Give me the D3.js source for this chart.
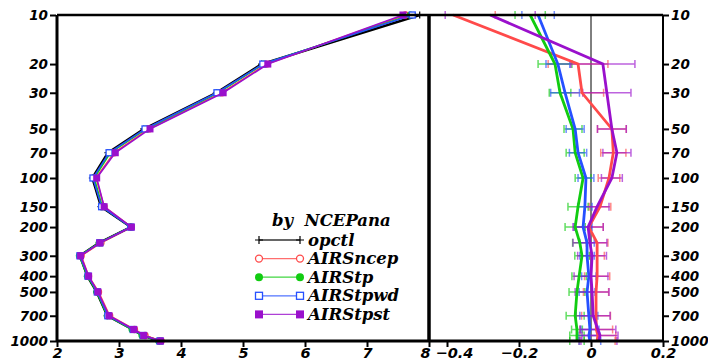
<!DOCTYPE html>
<html><head><meta charset="utf-8">
<script src="https://cdn.jsdelivr.net/npm/d3@7"></script>
<style>
body{margin:0;background:#fff;}
.tl{font-family:"DejaVu Sans",sans-serif;font-weight:bold;font-style:italic;}
.lg{font-family:"DejaVu Serif",serif;font-weight:bold;font-style:italic;font-size:16.5px;white-space:pre;}
</style></head><body>
<svg id="c" width="708" height="362"></svg>
<script>
// ---------- data ----------
const levels = [10,20,30,50,70,100,150,200,250,300,400,500,700,850,925,1000];
const pTicks = [10,20,30,50,70,100,150,200,300,400,500,700,1000];
const leftTicks = [2,3,4,5,6,7,8];
const rightTicks = [-0.4,-0.2,0,0.2];
const seriesNames = ["opctl","AIRSncep","AIRStp","AIRStpwd","AIRStpst"];
const seriesColors = ["#000000","#ff4a4a","#11cc11","#2650ff","#9a10cc"];

// left panel (absolute values)
const opctl    = [7.85,5.30,4.57,3.40,2.82,2.57,2.71,3.19,2.68,2.37,2.49,2.64,2.81,3.22,3.38,3.65];
const AIRSncep = [7.62,5.38,4.66,3.48,2.92,2.63,2.76,3.20,2.71,2.39,2.51,2.67,2.85,3.25,3.42,3.68];
const AIRStp   = [7.70,5.33,4.60,3.44,2.86,2.60,2.73,3.19,2.68,2.36,2.49,2.64,2.81,3.21,3.37,3.64];
const AIRStpwd = [7.73,5.32,4.58,3.42,2.84,2.58,2.72,3.19,2.69,2.37,2.50,2.65,2.82,3.23,3.39,3.66];
const AIRStpst = [7.58,5.40,4.68,3.50,2.94,2.64,2.76,3.20,2.69,2.38,2.51,2.66,2.84,3.24,3.40,3.67];

// right panel (differences) and error half-widths
const dNcep = [-0.383,-0.036,-0.025,0.058,0.062,0.050,0.025,-0.006,0.017,0.017,0.017,0.014,0.014,0.015,0.019,0.017];
const dTp   = [-0.169,-0.100,-0.086,-0.050,-0.044,-0.022,-0.036,-0.044,-0.031,-0.025,-0.033,-0.039,-0.044,-0.039,-0.039,-0.039];
const dTpwd = [-0.147,-0.092,-0.072,-0.044,-0.036,-0.014,-0.017,-0.022,-0.011,-0.011,-0.006,-0.011,-0.006,-0.003,-0.006,-0.003];
const dTpst = [-0.280,0.033,0.044,0.058,0.072,0.058,0.017,-0.008,-0.003,0.003,0.000,0.003,0.006,0.019,0.025,0.022];
const eNcep = [0.117,0.083,0.060,0.040,0.035,0.030,0.030,0.040,0.030,0.020,0.035,0.035,0.040,0.045,0.050,0.050];
const eTp   = [0.042,0.047,0.030,0.025,0.025,0.022,0.028,0.028,0.020,0.020,0.020,0.022,0.025,0.015,0.020,0.020];
const eTpwd = [0.045,0.033,0.040,0.025,0.024,0.022,0.020,0.025,0.020,0.020,0.020,0.022,0.025,0.025,0.030,0.030];
const eTpst = [0.125,0.089,0.067,0.040,0.039,0.029,0.033,0.042,0.047,0.040,0.047,0.047,0.047,0.050,0.050,0.050];

// ---------- layout ----------
const svg = d3.select("#c");
const yTop = 15, yBot = 341, xL0 = 57, xMid = 429, xR1 = 663;
const y = d3.scaleLog().domain([10,1000]).range([yTop,yBot]);
const xl = d3.scaleLinear().domain([2,8]).range([xL0,xMid]);
const xr = d3.scaleLinear().domain([-0.45,0.2]).range([xMid,xR1]);

const defs = svg.append("defs");
defs.append("clipPath").attr("id","cl").append("rect").attr("x",xL0).attr("y",yTop-6).attr("width",xMid-xL0).attr("height",yBot-yTop+12);
defs.append("clipPath").attr("id","cr").append("rect").attr("x",xMid).attr("y",yTop-6).attr("width",xR1-xMid).attr("height",yBot-yTop+12);

// ---------- left panel ----------
const leftData = [opctl,AIRSncep,AIRStp,AIRStpwd,AIRStpst];
const gl = svg.append("g").attr("clip-path","url(#cl)");
const lineL = d3.line().x(d=>xl(d[0])).y(d=>y(d[1]));

function marker(g, i, cx, cy, s){
  const c = seriesColors[i];
  if(i===0){
    g.append("path").attr("d",`M${cx-s},${cy}H${cx+s}M${cx},${cy-s}V${cy+s}`).attr("stroke",c).attr("stroke-width",1.2);
  } else if(i===1){
    g.append("circle").attr("cx",cx).attr("cy",cy).attr("r",s-0.5).attr("fill","#fff").attr("stroke",c).attr("stroke-width",1.3);
  } else if(i===2){
    g.append("circle").attr("cx",cx).attr("cy",cy).attr("r",s).attr("fill",c);
  } else if(i===3){
    g.append("rect").attr("x",cx-s+0.5).attr("y",cy-s+0.5).attr("width",2*s-1).attr("height",2*s-1).attr("fill","#fff").attr("stroke",c).attr("stroke-width",1.3);
  } else {
    g.append("rect").attr("x",cx-s).attr("y",cy-s).attr("width",2*s).attr("height",2*s).attr("fill",c);
  }
}

leftData.forEach((arr,i)=>{
  const pts = arr.map((v,k)=>[v,levels[k]]);
  gl.append("path").attr("d",lineL(pts)).attr("fill","none").attr("stroke",seriesColors[i]).attr("stroke-width",i===0?2.4:1.6);
  const mg = gl.append("g");
  pts.forEach(p=>marker(mg,i,xl(p[0]),y(p[1]),3.5));
});

// ---------- right panel ----------
const diffs = [dNcep,dTp,dTpwd,dTpst];
const errs = [eNcep,eTp,eTpwd,eTpst];
const gr = svg.append("g").attr("clip-path","url(#cr)");
gr.append("line").attr("x1",xr(0)).attr("x2",xr(0)).attr("y1",yTop).attr("y2",yBot).attr("stroke","#000").attr("stroke-width",1);
const lineR = d3.line().x(d=>xr(d[0])).y(d=>y(d[1]));
diffs.forEach((arr,j)=>{
  const c = seriesColors[j+1];
  const eg = gr.append("g").attr("stroke",c).attr("stroke-opacity",0.65).attr("stroke-width",1.5).attr("fill","none");
  arr.forEach((v,k)=>{
    const yy = y(levels[k]), a = xr(v-errs[j][k]), b = xr(v+errs[j][k]);
    eg.append("path").attr("d",`M${a},${yy}H${b}M${a},${yy-4}V${yy+4}M${b},${yy-4}V${yy+4}`);
  });
});
diffs.forEach((arr,j)=>{
  const pts = arr.map((v,k)=>[v,levels[k]]);
  gr.append("path").attr("d",lineR(pts)).attr("fill","none").attr("stroke",seriesColors[j+1]).attr("stroke-width",2.8);
});

// ---------- frame & axes ----------
const fr = svg.append("g").attr("stroke","#000").attr("fill","none");
fr.append("line").attr("x1",xL0).attr("x2",xR1).attr("y1",yTop).attr("y2",yTop).attr("stroke-width",2.5);
fr.append("line").attr("x1",xL0-1).attr("x2",xR1+1).attr("y1",yBot).attr("y2",yBot).attr("stroke-width",3);
fr.append("line").attr("x1",xL0).attr("x2",xL0).attr("y1",yTop).attr("y2",yBot).attr("stroke-width",3);
fr.append("line").attr("x1",xMid).attr("x2",xMid).attr("y1",yTop).attr("y2",yBot).attr("stroke-width",3.5);
fr.append("line").attr("x1",xR1).attr("x2",xR1).attr("y1",yTop).attr("y2",yBot).attr("stroke-width",2);

const axL = svg.append("g").attr("transform",`translate(${xL0-1},0)`)
  .call(d3.axisLeft(y).tickValues(pTicks).tickFormat(d3.format("d")).tickSize(6).tickPadding(2));
const axR = svg.append("g").attr("transform",`translate(${xR1},0)`)
  .call(d3.axisRight(y).tickValues(pTicks).tickFormat(d3.format("d")).tickSize(6).tickPadding(2));
const axB1 = svg.append("g").attr("transform",`translate(0,${yBot+1})`)
  .call(d3.axisBottom(xl).tickValues(leftTicks).tickFormat(d3.format("d")).tickSize(5).tickPadding(1));
const axB2 = svg.append("g").attr("transform",`translate(0,${yBot+1})`)
  .call(d3.axisBottom(xr).tickValues(rightTicks).tickFormat(d=>d===0?"0":d3.format(".1f")(d).replace("-","\u2212")).tickSize(5).tickPadding(1));
[axL,axR,axB1,axB2].forEach(a=>{
  a.select(".domain").remove();
  a.selectAll(".tick line").attr("stroke","#000").attr("stroke-width",2);
  a.selectAll("text").attr("class","tl").attr("fill","#000");
});
[axL,axR].forEach(a=>a.selectAll("text").style("font-size","13.5px"));
[axB1,axB2].forEach(a=>a.selectAll("text").style("font-size","14.5px"));
// keep "8" and "−0.4" side by side without overlapping
axB1.selectAll(".tick").filter(d=>d===8).select("text").attr("text-anchor","end").attr("dx",1);
axB2.selectAll(".tick").filter(d=>d===-0.4).select("text").attr("text-anchor","start").attr("dx",-12);

// ---------- legend ----------
const lg = svg.append("g");
lg.append("text").attr("class","lg").attr("x",272).attr("y",226).text("by  NCEPana");
seriesNames.forEach((n,i)=>{
  const yy = 240 + i*18.6;
  const c = seriesColors[i];
  lg.append("line").attr("x1",259).attr("x2",300).attr("y1",yy).attr("y2",yy).attr("stroke",c).attr("stroke-width",1.3).attr("stroke-opacity",0.8);
  marker(lg,i,259,yy,4);
  marker(lg,i,300,yy,4);
  lg.append("text").attr("class","lg").attr("x",308).attr("y",yy+5.5).text(n);
});
</script></body></html>
